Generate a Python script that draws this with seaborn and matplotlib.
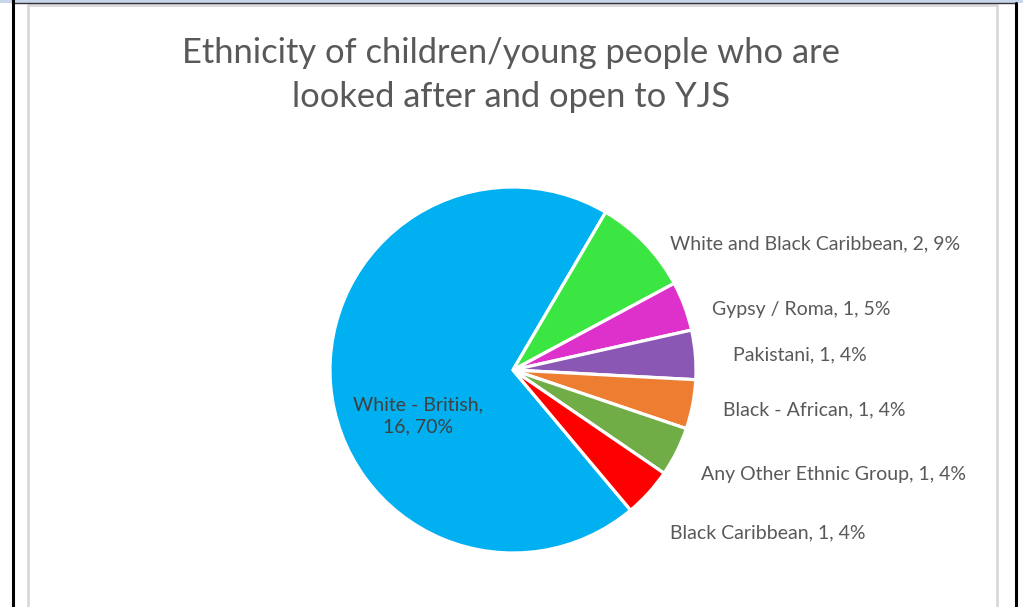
import matplotlib
matplotlib.use("Agg")
import matplotlib.pyplot as plt
import seaborn as sns
from matplotlib.patches import Rectangle
from matplotlib.lines import Line2D

# data
categories = ["White - British", "White and Black Caribbean", "Gypsy / Roma",
              "Pakistani", "Black - African", "Any Other Ethnic Group",
              "Black Caribbean"]
counts = [16, 2, 1, 1, 1, 1, 1]
pct_labels = ["70%", "9%", "5%", "4%", "4%", "4%", "4%"]
colors = ["#00B0F0", "#3BE642", "#DE30CB", "#8B57B5", "#ED7D31", "#70AD47", "#FF0000"]

# label anchor positions (pie radius = 1)
label_pos = [(-0.52, -0.25), (0.86, 0.69), (1.09, 0.33), (1.20, 0.08),
             (1.15, -0.22), (1.03, -0.57), (0.86, -0.89)]

sns.set_theme(style="white")
plt.rcParams["font.family"] = ["Lato", "DejaVu Sans"]

W, H = 1023, 607
fig = plt.figure(figsize=(W / 100, H / 100), dpi=100)
fig.patch.set_facecolor("white")

# pie centre at (513, 370) px, radius 183 px
cx, cy, R = 513, 370, 183
ax = fig.add_axes([0, 0, 1, 1])

ax.pie(counts, colors=colors, startangle=-50, counterclock=False,
       radius=1.0, wedgeprops=dict(edgecolor="white", linewidth=2.3))
ax.set_aspect("auto")
ax.set_xlim(-cx / R, (W - cx) / R)
ax.set_ylim(-(H - cy) / R, cy / R)
ax.axis("off")

for i, (cat, n, p) in enumerate(zip(categories, counts, pct_labels)):
    x, y = label_pos[i]
    if i == 0:
        ax.text(x, y, f"{cat},\n{n}, {p}", ha="center", va="center",
                fontsize=14, color="#404040", linespacing=1.4)
    else:
        ax.text(x, y, f"{cat}, {n}, {p}", ha="left", va="center",
                fontsize=14, color="#595959")

fig.text(0.5, 1 - 75 / H, "Ethnicity of children/young people who are\nlooked after and open to YJS",
         ha="center", va="center", fontsize=24.8, color="#595959", linespacing=1.45)

# window frame / chart border decoration
fig.add_artist(Rectangle((28 / W, -0.01), (997 - 28) / W, (H - 4.5) / H + 0.01,
                         transform=fig.transFigure, fill=False,
                         edgecolor="#D9D9D9", linewidth=2))
fig.add_artist(Rectangle((0, 1 - 2.5 / H), 1, 2.5 / H, transform=fig.transFigure,
                         facecolor="#C9D5EA", edgecolor="none"))
fig.add_artist(Line2D([13 / W, 1015.5 / W], [1 - 3.2 / H, 1 - 3.2 / H],
                      transform=fig.transFigure, color="#333333", linewidth=1))
fig.add_artist(Line2D([13 / W, 13 / W], [0, 1], transform=fig.transFigure,
                      color="black", linewidth=2.2))
fig.add_artist(Line2D([1015.5 / W, 1015.5 / W], [0, 1 - 3 / H],
                      transform=fig.transFigure, color="black", linewidth=2.2))

fig.savefig("out.png", dpi=100)
